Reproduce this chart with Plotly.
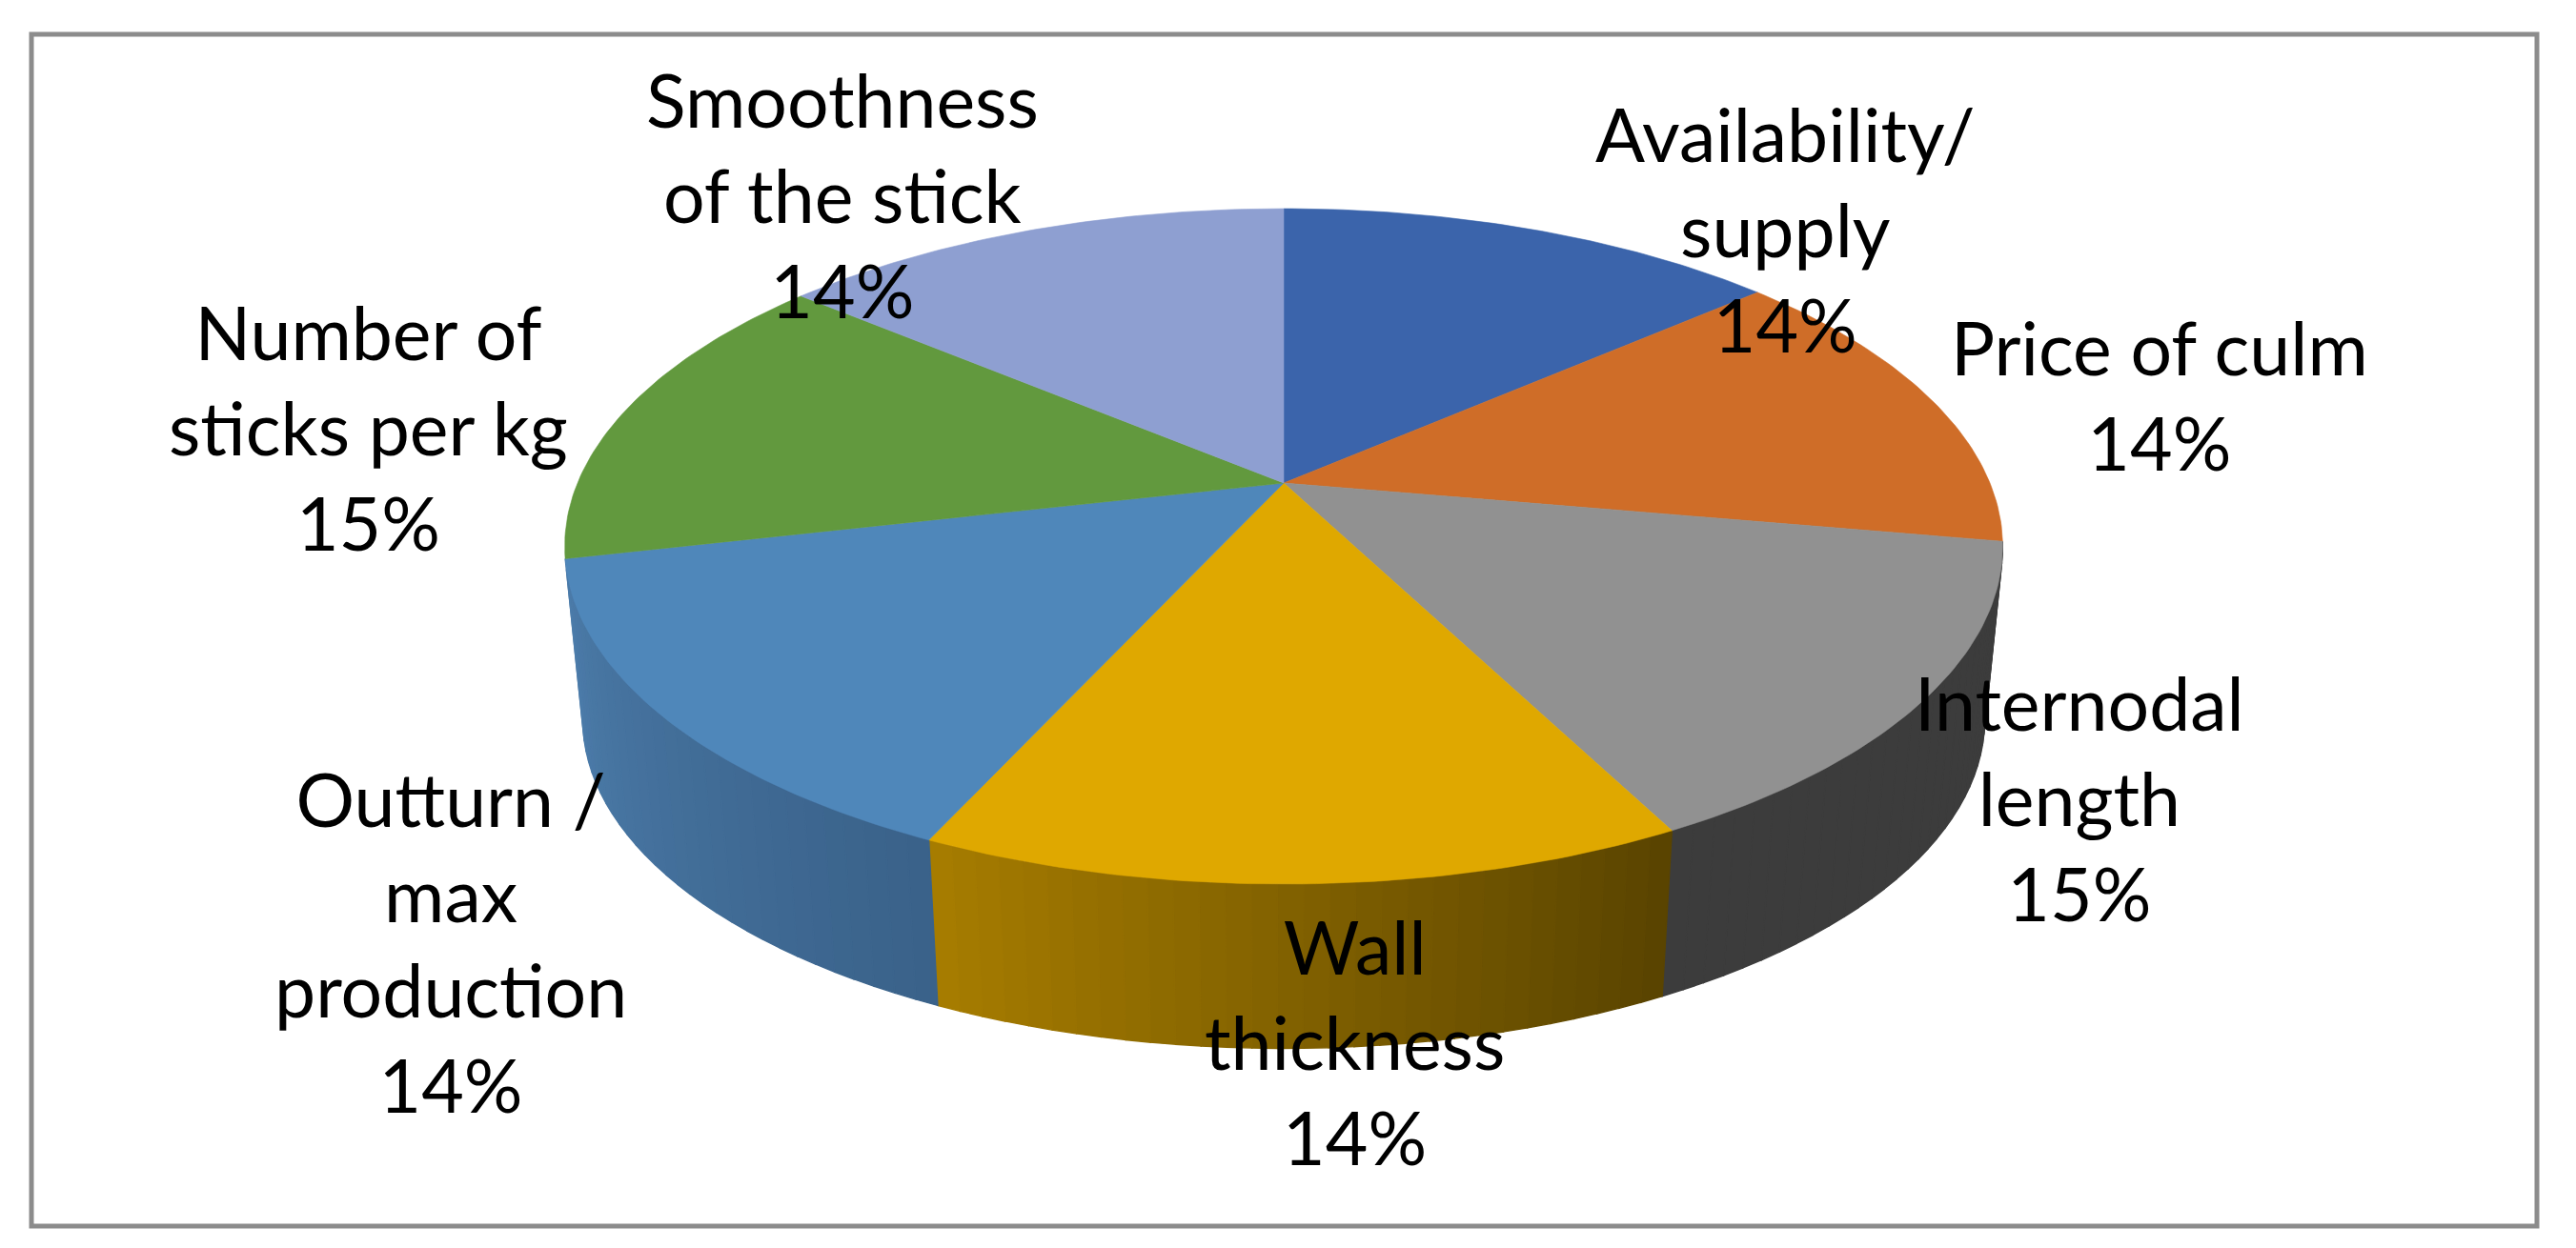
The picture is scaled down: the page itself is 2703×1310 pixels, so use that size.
import math
import plotly.graph_objects as go

# Shares are estimated from the slice boundaries,
# the printed percentages are kept as labelled.
categories = [
    "Availability/<br>supply",
    "Price of culm",
    "Internodal<br>length",
    "Wall<br>thickness",
    "Outturn /<br>max<br>production",
    "Number of<br>sticks per kg",
    "Smoothness<br>of the stick",
]
shares = [13.6, 14.2, 14.67, 14.43, 14.6, 14.7, 13.9]
printed = ["14%", "14%", "15%", "14%", "14%", "15%", "14%"]

# styles
top_colors = ["#3b64ab", "#cf6d28", "#919191", "#dfa800", "#4f87ba", "#62993e", "#8e9fd1"]
side_left = [None, None, (60, 60, 60), (166, 124, 0), (76, 124, 170), None, None]
side_right = [None, None, (60, 60, 60), (90, 68, 0), (58, 98, 138), None, None]
label_x = [1873, 2266, 2182, 1421, 473, 386, 884]
label_y = [240, 414, 837, 1093, 988, 448, 204]

# pie geometry: a tilted disc seen in perspective
CX, CY = 1347, 507
RX, RY = 741, 342
PERSP = 0.1876
DEPTH = 183
BOTTOM_SCALE = 0.975


def project(deg, scale=1.0, drop=0.0):
    a = math.radians(deg)
    u, v = math.sin(a), math.cos(a)
    w = 1 + PERSP * v
    return CX + scale * RX * u / w, CY + drop - scale * RY * v / w


def rim(a0, a1, scale=1.0, drop=0.0, n=60):
    pts = [project(a0 + (a1 - a0) * i / n, scale, drop) for i in range(n + 1)]
    return [p[0] for p in pts], [p[1] for p in pts]


total = sum(shares)
edges = [0.0]
for s in shares:
    edges.append(edges[-1] + s / total * 360)

fig = go.Figure()


def add_poly(xs, ys, color, width=0.6):
    fig.add_trace(go.Scatter(
        x=xs + xs[:1], y=ys + ys[:1],
        mode="lines", fill="toself", fillcolor=color,
        line=dict(color=color, width=width),
        hoverinfo="skip", showlegend=False,
    ))


# outer wall first, only the slices that face the viewer
for i in range(len(shares)):
    if side_left[i] is None:
        continue
    strips = 30
    for k in range(strips):
        t = k / (strips - 1)
        rgb = [round(a + (b - a) * t) for a, b in zip(side_right[i], side_left[i])]
        a0 = edges[i] + (edges[i + 1] - edges[i]) * k / strips
        a1 = edges[i] + (edges[i + 1] - edges[i]) * (k + 1) / strips
        tx, ty = rim(a0, a1, n=4)
        bx, by = rim(a0, a1, BOTTOM_SCALE, DEPTH, n=4)
        add_poly(tx + bx[::-1], ty + by[::-1], f"rgb({rgb[0]},{rgb[1]},{rgb[2]})", width=1.4)

# top face
for i in range(len(shares)):
    rx, ry = rim(edges[i], edges[i + 1])
    add_poly([CX] + rx, [CY] + ry, top_colors[i])

for i, name in enumerate(categories):
    fig.add_annotation(
        x=label_x[i], y=label_y[i], xref="x", yref="y",
        text=f"{name}<br>{printed[i]}",
        showarrow=False, xanchor="center", yanchor="middle", align="center",
        font=dict(family="Lato", size=77, color="#000000"),
    )

fig.add_shape(type="rect", xref="x", yref="y", x0=33, y0=36, x1=2662, y1=1287,
              line=dict(color="#8c8c8c", width=5), fillcolor="rgba(0,0,0,0)", layer="below")

fig.update_layout(
    width=2703, height=1310,
    margin=dict(l=0, r=0, t=0, b=0),
    paper_bgcolor="#ffffff", plot_bgcolor="#ffffff",
    showlegend=False,
    xaxis=dict(range=[0, 2703], visible=False, fixedrange=True),
    yaxis=dict(range=[1310, 0], visible=False, fixedrange=True),
)

fig.write_html(
    "out.html",
    config=dict(displayModeBar=False),
    post_script="document.body.style.margin='0';document.body.style.overflow='hidden';",
)
